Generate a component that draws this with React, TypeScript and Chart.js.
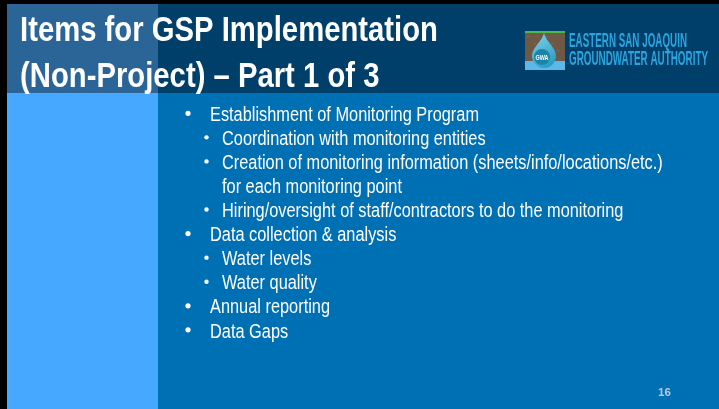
import React, { useEffect, useRef } from "react";
import { Chart, registerables } from "chart.js";

Chart.register(...registerables);

const TITLE_LINES = ["Items for GSP Implementation", "(Non-Project) – Part 1 of 3"];
const BULLET_TEXTS = [
  "Establishment of Monitoring Program",
  "Coordination with monitoring entities",
  "Creation of monitoring information (sheets/info/locations/etc.)",
  "for each monitoring point",
  "Hiring/oversight of staff/contractors to do the monitoring",
  "Data collection & analysis",
  "Water levels",
  "Water quality",
  "Annual reporting",
  "Data Gaps",
];
const BULLET_LEVELS = [1, 2, 2, 2, 2, 1, 2, 2, 1, 1];
const BULLET_MARKS = [true, true, true, false, true, true, true, true, true, true];
const LOGO_LINES = ["EASTERN SAN JOAQUIN", "GROUNDWATER AUTHORITY"];
const LOGO_BADGE = "GWA";
const PAGE_NUMBER = "16";

const W = 719;
const H = 409;

function fitText(
  ctx: CanvasRenderingContext2D,
  text: string,
  x: number,
  y: number,
  font: string,
  sx: number,
  color: string
) {
  ctx.save();
  ctx.font = font;
  ctx.fillStyle = color;
  ctx.textBaseline = "alphabetic";
  ctx.textAlign = "left";
  ctx.translate(x, y);
  ctx.scale(sx, 1);
  ctx.fillText(text, 0, 0);
  ctx.restore();
}

function scaleFor(ctx: CanvasRenderingContext2D, text: string, font: string, width: number) {
  ctx.save();
  ctx.font = font;
  const m = ctx.measureText(text).width;
  ctx.restore();
  return m > 0 ? width / m : 1;
}

const slidePlugin = {
  id: "slideBackdrop",
  beforeDraw(chart: any) {
    const ctx: CanvasRenderingContext2D = chart.ctx;
    ctx.save();
    // frame
    ctx.fillStyle = "#000000";
    ctx.fillRect(0, 0, W, H);
    // header
    ctx.fillStyle = "#2B6598";
    ctx.fillRect(7, 4, 151, 89);
    ctx.fillStyle = "#003F6A";
    ctx.fillRect(158, 4, W - 158, 89);
    // body
    ctx.fillStyle = "#46A9FF";
    ctx.fillRect(7, 93, 151, H - 93);
    ctx.fillStyle = "#0070B5";
    ctx.fillRect(158, 93, W - 158, H - 93);

    // title
    const titleFont = "bold 35px 'Liberation Sans', Arial, sans-serif";
    const tsx = scaleFor(ctx, TITLE_LINES[0], titleFont, 418);
    fitText(ctx, TITLE_LINES[0], 20, 41, titleFont, tsx, "#FFFFFF");
    fitText(ctx, TITLE_LINES[1], 20, 87, titleFont, tsx, "#FFFFFF");

    // logo image
    ctx.fillStyle = "#6E5846";
    ctx.fillRect(525, 31, 40, 39);
    ctx.fillStyle = "#7C6652";
    for (let i = 0; i < 6; i++) {
      ctx.fillRect(527 + i * 6, 36 + (i % 3) * 7, 3, 1);
    }
    ctx.fillStyle = "#4DB848";
    ctx.fillRect(525, 31, 40, 2);
    ctx.fillStyle = "#5DB8EA";
    ctx.fillRect(525, 61, 40, 9);
    // drop
    const grad = ctx.createLinearGradient(534, 33, 556, 68);
    grad.addColorStop(0, "#7FD3EC");
    grad.addColorStop(1, "#1F93BC");
    ctx.fillStyle = grad;
    ctx.beginPath();
    ctx.moveTo(544, 33);
    ctx.bezierCurveTo(546, 42, 556, 47, 556, 56);
    ctx.arc(544, 56, 12, 0, Math.PI, false);
    ctx.bezierCurveTo(532, 47, 542, 42, 544, 33);
    ctx.closePath();
    ctx.fill();
    ctx.fillStyle = "#1C84A8";
    ctx.beginPath();
    ctx.arc(542, 57, 8, 0, Math.PI * 2);
    ctx.fill();
    const badgeFont = "bold 8px 'Liberation Sans', Arial, sans-serif";
    const bsx = scaleFor(ctx, LOGO_BADGE, badgeFont, 13);
    fitText(ctx, LOGO_BADGE, 535.5, 60, badgeFont, bsx, "#FFFFFF");

    // logo text
    const logoFont = "bold 19.5px 'Liberation Sans Narrow', 'Liberation Sans', Arial, sans-serif";
    const l1 = scaleFor(ctx, LOGO_LINES[0], logoFont, 118);
    const l2 = scaleFor(ctx, LOGO_LINES[1], logoFont, 139);
    fitText(ctx, LOGO_LINES[0], 569, 47, logoFont, l1, "#2CA5DE");
    fitText(ctx, LOGO_LINES[1], 569, 65, logoFont, l2, "#2CA5DE");

    // bullets
    const bodyFont = "19.3px 'Liberation Sans', Arial, sans-serif";
    const bsx2 = scaleFor(ctx, BULLET_TEXTS[0], bodyFont, 269);
    BULLET_TEXTS.forEach((t, i) => {
      const base = 121 + 24.06 * i;
      const lvl = BULLET_LEVELS[i];
      const tx = lvl === 1 ? 210 : 222;
      if (BULLET_MARKS[i]) {
        ctx.fillStyle = "#FFFFFF";
        ctx.beginPath();
        ctx.arc(lvl === 1 ? 188 : 206.5, base - 7.7, lvl === 1 ? 2.6 : 2.2, 0, Math.PI * 2);
        ctx.fill();
      }
      fitText(ctx, t, tx, base, bodyFont, bsx2, "#FFFFFF");
    });

    // page number
    fitText(ctx, PAGE_NUMBER, 658, 396, "bold 11.5px 'Liberation Sans', Arial, sans-serif", 1, "#BCCAD8");
    ctx.restore();
  },
};

export default function App() {
  const ref = useRef<HTMLCanvasElement | null>(null);
  useEffect(() => {
    document.body.style.margin = "0";
    const canvas = ref.current;
    if (!canvas) return;
    const chart = new Chart(canvas, {
      type: "bar",
      data: { labels: [], datasets: [] },
      options: {
        animation: false,
        responsive: false,
        devicePixelRatio: 1,
        events: [],
        layout: { padding: 0 },
        plugins: { legend: { display: false }, tooltip: { enabled: false }, title: { display: false } },
        scales: { x: { display: false }, y: { display: false } },
      },
      plugins: [slidePlugin],
    });
    return () => chart.destroy();
  }, []);
  return (
    <div style={{ width: W, height: H, overflow: "hidden" }}>
      <canvas ref={ref} width={W} height={H} style={{ display: "block", width: W, height: H }} />
    </div>
  );
}
